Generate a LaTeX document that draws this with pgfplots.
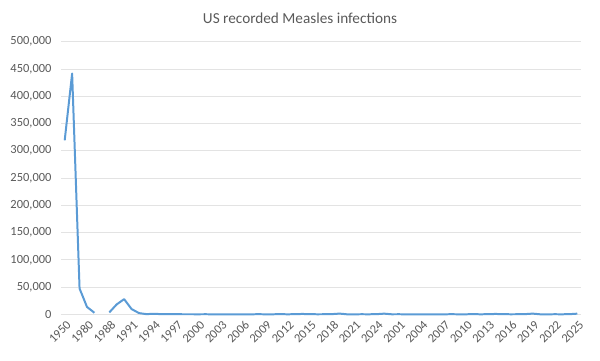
\documentclass[border=0pt]{standalone}
\usepackage{fontspec}
\setmainfont{Carlito}
\usepackage{pgfplots}
\pgfplotsset{compat=1.18}
\definecolor{linecol}{HTML}{5B9BD5}
\definecolor{gridcol}{HTML}{E3E3E3}
\definecolor{textcol}{HTML}{595959}
\begin{document}
\begin{tikzpicture}[x=1bp,y=1bp]
\path (0,0) rectangle (600,360);
\node[text=textcol, font=\fontsize{15.3}{17}\selectfont] at (300,342) {US recorded Measles infections};
\begin{axis}[
  at={(64.7bp,45.7bp)}, anchor=origin,
  scale only axis, width=520bp, height=272.6bp,
  xmin=-0.5, xmax=69.5, ymin=0, ymax=500000,
  axis lines*=left,
  y axis line style={draw=none},
  x axis line style={draw=gridcol, line width=0.8pt, -},
  ymajorgrids, grid style={gridcol, line width=0.8pt},
  ytick={0,50000,...,500000},
  xtick={0,3,...,69},
  xticklabels={1950,1980,1988,1991,1994,1997,2000,2003,2006,2009,2012,2015,2018,2021,2024,2001,2004,2007,2010,2013,2016,2019,2022,2025},
  major tick length=0pt,
  scaled y ticks=false,
  /pgf/number format/.cd, fixed, 1000 sep={,}, assume math mode=true,
  /pgfplots/.cd,
  tick label style={text=textcol, font=\fontsize{12.5}{14}\selectfont},
  yticklabel style={anchor=east, xshift=-6bp},
  xticklabel style={rotate=45, anchor=east, inner sep=1pt, xshift=-2bp, yshift=-9bp},
  unbounded coords=jump,
  clip=false,
]
\addplot[draw=linecol, line width=2pt, line join=round] coordinates {
(0,319124) (1,441703) (2,47351) (3,13506) (4,2822) (5,nan) (6,3396) (7,18193) (8,27786) (9,9643)
(10,2237) (11,312) (12,963) (13,309) (14,508) (15,138) (16,100) (17,100) (18,86) (19,116)
(20,44) (21,56) (22,37) (23,66) (24,55) (25,43) (26,140) (27,71) (28,63) (29,220)
(30,55) (31,187) (32,667) (33,188) (34,86) (35,120) (36,375) (37,1274) (38,13) (39,49)
(40,121) (41,59) (42,285) (43,1200) (44,86) (45,116) (46,44) (47,56) (48,37) (49,66)
(50,55) (51,43) (52,140) (53,71) (54,63) (55,220) (56,55) (57,187) (58,667) (59,188)
(60,86) (61,120) (62,375) (63,1274) (64,13) (65,49) (66,121) (67,59) (68,285) (69,1200)
};
\end{axis}
\end{tikzpicture}
\end{document}
